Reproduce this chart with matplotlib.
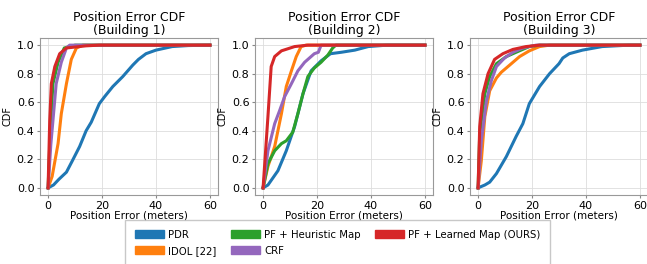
import matplotlib
matplotlib.use("Agg")
import matplotlib.pyplot as plt
from matplotlib.patches import Patch

methods = ['PDR', 'IDOL [22]', 'PF + Heuristic Map', 'CRF', 'PF + Learned Map (OURS)']
colors = ['#1f77b4', '#ff7f0e', '#2ca02c', '#9467bd', '#d62728']

# building 1
b1_pdr_x = [0, 2, 4, 6.8, 9, 11.7, 14.1, 16, 19, 21, 24, 27.7, 31.4, 33.5, 36.3, 40, 46, 52, 60]
b1_pdr_y = [0, 0.02, 0.06, 0.11, 0.19, 0.29, 0.40, 0.46, 0.59, 0.64, 0.71, 0.78, 0.86, 0.9, 0.94, 0.965, 0.99, 0.997, 1.0]
b1_idol_x = [0, 1.5, 3.7, 4.9, 6.8, 8.6, 10.5, 12.9, 60]
b1_idol_y = [0, 0.08, 0.31, 0.52, 0.73, 0.9, 0.98, 1.0, 1.0]
b1_heur_x = [0, 0.8, 1.8, 3.7, 6, 10, 60]
b1_heur_y = [0, 0.4, 0.73, 0.88, 0.98, 1.0, 1.0]
b1_crf_x = [0, 1, 3, 4.9, 6.8, 8, 60]
b1_crf_y = [0, 0.3, 0.73, 0.88, 0.98, 1.0, 1.0]
b1_ours_x = [0, 0.6, 1.2, 2.5, 4.3, 6.8, 14, 19, 60]
b1_ours_y = [0, 0.47, 0.73, 0.85, 0.94, 0.98, 0.995, 1.0, 1.0]

# building 2
b2_pdr_x = [0, 1.8, 5.5, 8.6, 11.7, 14.8, 17.8, 21.5, 25, 29, 34, 39, 46, 60]
b2_pdr_y = [0, 0.02, 0.12, 0.26, 0.43, 0.66, 0.82, 0.89, 0.94, 0.95, 0.965, 0.99, 1.0, 1.0]
b2_idol_x = [0, 1.8, 4.3, 6.8, 8.6, 10.5, 12.3, 14.1, 16, 60]
b2_idol_y = [0, 0.15, 0.29, 0.52, 0.71, 0.82, 0.92, 0.99, 1.0, 1.0]
b2_heur_x = [0, 1.8, 4.3, 6.8, 8.6, 11, 12.9, 14.8, 16.6, 19, 21.5, 24, 25.8, 27, 60]
b2_heur_y = [0, 0.17, 0.26, 0.31, 0.33, 0.39, 0.52, 0.66, 0.78, 0.84, 0.88, 0.93, 0.98, 1.0, 1.0]
b2_crf_x = [0, 1.8, 4.3, 6.1, 8, 10.5, 12.9, 15.4, 19, 20.5, 21.3, 21.5, 60]
b2_crf_y = [0, 0.26, 0.45, 0.54, 0.64, 0.73, 0.82, 0.88, 0.94, 0.95, 0.99, 1.0, 1.0]
b2_ours_x = [0, 1.8, 3, 4.3, 6.8, 11.7, 16.6, 60]
b2_ours_y = [0, 0.5, 0.85, 0.92, 0.96, 0.99, 1.0, 1.0]

# building 3
b3_pdr_x = [0, 2.5, 4.3, 6.8, 10.5, 14.1, 16.6, 19, 22.8, 26.5, 30, 31.4, 33.8, 38.7, 46, 56, 60]
b3_pdr_y = [0, 0.02, 0.04, 0.1, 0.22, 0.36, 0.45, 0.59, 0.71, 0.8, 0.87, 0.91, 0.94, 0.965, 0.99, 1.0, 1.0]
b3_idol_x = [0, 1.2, 2.5, 4.3, 6.8, 8.6, 11.7, 15.4, 19, 22.8, 26.5, 60]
b3_idol_y = [0, 0.19, 0.5, 0.68, 0.77, 0.81, 0.86, 0.92, 0.96, 0.99, 1.0, 1.0]
b3_heur_x = [0, 0.6, 2.5, 4.3, 6.8, 10.5, 14.1, 19, 22.8, 60]
b3_heur_y = [0, 0.38, 0.66, 0.78, 0.87, 0.92, 0.95, 0.99, 1.0, 1.0]
b3_crf_x = [0, 1.2, 3.1, 4.9, 6.8, 9.8, 12.9, 16.6, 19, 21.5, 60]
b3_crf_y = [0, 0.33, 0.61, 0.75, 0.85, 0.91, 0.95, 0.98, 0.99, 1.0, 1.0]
b3_ours_x = [0, 0.6, 1.8, 3.7, 6.1, 9.2, 12.9, 17.8, 22.8, 60]
b3_ours_y = [0, 0.43, 0.66, 0.8, 0.9, 0.94, 0.97, 0.99, 1.0, 1.0]

buildings = [
    [(b1_pdr_x, b1_pdr_y), (b1_idol_x, b1_idol_y), (b1_heur_x, b1_heur_y), (b1_crf_x, b1_crf_y), (b1_ours_x, b1_ours_y)],
    [(b2_pdr_x, b2_pdr_y), (b2_idol_x, b2_idol_y), (b2_heur_x, b2_heur_y), (b2_crf_x, b2_crf_y), (b2_ours_x, b2_ours_y)],
    [(b3_pdr_x, b3_pdr_y), (b3_idol_x, b3_idol_y), (b3_heur_x, b3_heur_y), (b3_crf_x, b3_crf_y), (b3_ours_x, b3_ours_y)],
]

fig = plt.figure(figsize=(6.47, 2.64), dpi=100)
lefts = [40, 255, 470]
for i, series in enumerate(buildings):
    ax = fig.add_axes([lefts[i] / 647, 69 / 264, 178 / 647, 157 / 264])
    # ours drawn last so it sits on top
    for (x, y), c in zip(series, colors):
        ax.plot(x, y, color=c, lw=2.2)
    ax.set_xlim(-3, 63)
    ax.set_ylim(-0.05, 1.05)
    ax.set_xticks([0, 20, 40, 60])
    ax.set_yticks([0, 0.2, 0.4, 0.6, 0.8, 1.0])
    ax.tick_params(labelsize=8, length=2, pad=2, color='#888888')
    ax.grid(True, color='#dddddd', lw=0.6)
    for s in ax.spines.values():
        s.set_color('#999999')
    ax.set_title(f'Position Error CDF\n(Building {i + 1})', fontsize=9, linespacing=1.0, pad=3)
    ax.set_xlabel('Position Error (meters)', fontsize=7.5, labelpad=0)
    ax.set_ylabel('CDF', fontsize=7, labelpad=3)

handles = [Patch(color=c) for c in colors]
fig.legend(handles, methods, ncol=3, fontsize=7.3, loc='upper left',
           bbox_to_anchor=(125 / 647, 44 / 264), bbox_transform=fig.transFigure,
           fancybox=False, edgecolor='#bbbbbb', handlelength=2.9, handleheight=0.8,
           handletextpad=0.4, columnspacing=1.4, labelspacing=0.6, borderpad=0.95,
           borderaxespad=0)

fig.savefig('out.png', dpi=100)
